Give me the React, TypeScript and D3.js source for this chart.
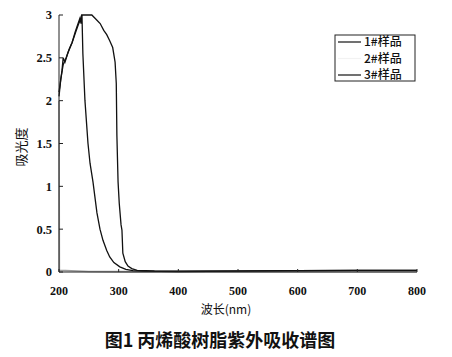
import React from "react";
import * as d3 from "d3";

const xTicks = [200, 300, 400, 500, 600, 700, 800];
const yTicks = [0, 0.5, 1, 1.5, 2, 2.5, 3];
const yTickLabels = ["0", "0.5", "1", "1.5", "2", "2.5", "3"];

const seriesNames = ["1#样品", "2#样品", "3#样品"];

// sample 1# (narrow band)
const s1Wave = [200, 203, 207, 212, 217, 222, 227, 232, 235, 237, 238.5, 240, 243.5, 248.6, 252, 257, 263.6, 268.7, 273.7, 280, 285, 292, 302, 312, 324, 340, 400, 500, 600, 700, 800];
const s1Abs = [2.05, 2.25, 2.42, 2.5, 2.6, 2.68, 2.8, 2.9, 2.96, 2.9, 3.0, 2.55, 2.0, 1.5, 1.27, 1.05, 0.69, 0.5, 0.37, 0.25, 0.175, 0.11, 0.06, 0.03, 0.015, 0.01, 0.006, 0.01, 0.015, 0.02, 0.02];

// sample 2# (faint)
const s2Wave = [200, 200.6, 250, 300, 400, 500, 600, 700, 800];
const s2Abs = [2.0, 0.02, 0.005, 0.004, 0.003, 0.004, 0.004, 0.004, 0.004];

// sample 3# (broad band)
const s3Wave = [200, 203, 205, 207, 210, 215, 222, 228, 232, 236, 238, 245, 255, 262, 269, 275, 280, 285, 290, 294, 296, 297, 299, 301, 304, 305.5, 307, 311, 315.6, 322, 331, 360, 400, 500, 600, 700, 800];
const s3Abs = [2.1, 2.25, 2.35, 2.5, 2.45, 2.56, 2.68, 2.8, 2.88, 2.95, 3.0, 3.0, 3.0, 2.95, 2.9, 2.82, 2.77, 2.7, 2.62, 2.45, 2.2, 1.6, 1.05, 0.8, 0.55, 0.49, 0.22, 0.12, 0.07, 0.04, 0.02, 0.012, 0.01, 0.012, 0.016, 0.02, 0.02];

const W = 452;
const H = 357;
const left = 59;
const right = 417;
const top = 15;
const bottom = 272;

export default function App() {
  const x = d3.scaleLinear().domain([200, 800]).range([left, right]);
  const y = d3.scaleLinear().domain([0, 3]).range([bottom, top]);
  const line = d3
    .line<[number, number]>()
    .x((d) => x(d[0]))
    .y((d) => y(d[1]));
  const s1 = s1Wave.map((w, i) => [w, s1Abs[i]] as [number, number]);
  const s2 = s2Wave.map((w, i) => [w, s2Abs[i]] as [number, number]);
  const s3 = s3Wave.map((w, i) => [w, s3Abs[i]] as [number, number]);
  const serif = "'Liberation Serif', 'DejaVu Serif', serif";
  const cjk = "'Noto Sans CJK SC', sans-serif";
  return (
    <svg
      width={W}
      height={H}
      style={{ position: "absolute", left: 0, top: 0, background: "#fff" }}
    >
      <rect x={0} y={0} width={W} height={H} fill="#fff" />
      <path d={line(s2) || ""} fill="none" stroke="#9a9a9a" strokeWidth={1.6} />
      <path d={line(s1) || ""} fill="none" stroke="#111" strokeWidth={1.3} />
      <path d={line(s3) || ""} fill="none" stroke="#111" strokeWidth={1.3} />
      <line x1={left} y1={top} x2={left} y2={bottom} stroke="#222" strokeWidth={1} />
      <line x1={left} y1={bottom} x2={right} y2={bottom} stroke="#222" strokeWidth={1} />
      {yTicks.map((t, i) => (
        <g key={"y" + t}>
          <line x1={left} x2={left + 4} y1={y(t)} y2={y(t)} stroke="#222" />
          <text
            x={left - 7}
            y={y(t)}
            dy="0.35em"
            textAnchor="end"
            fontFamily={serif}
            fontWeight="bold"
            fontSize={12.5}
            fill="#111"
          >
            {yTickLabels[i]}
          </text>
        </g>
      ))}
      {xTicks.map((t) => (
        <g key={"x" + t}>
          <line x1={x(t)} x2={x(t)} y1={bottom} y2={bottom - 3} stroke="#222" />
          <text
            x={x(t)}
            y={291}
            dy="0.35em"
            textAnchor="middle"
            fontFamily={serif}
            fontWeight="bold"
            fontSize={12}
            fill="#111"
          >
            {t}
          </text>
        </g>
      ))}
      <text
        x={226}
        y={310}
        dy="0.35em"
        textAnchor="middle"
        fontFamily={cjk}
        fontSize={12}
        fill="#111"
      >
        波长(nm)
      </text>
      <text
        transform="translate(21,147) rotate(-90)"
        textAnchor="middle"
        dy="0.35em"
        fontFamily={cjk}
        fontSize={13}
        fill="#111"
      >
        吸光度
      </text>
      <rect x={335} y={35} width={80} height={46} fill="#fff" stroke="#222" strokeWidth={1} />
      {seriesNames.map((n, i) => (
        <g key={n}>
          <line
            x1={338}
            x2={361}
            y1={42 + i * 16.5}
            y2={42 + i * 16.5}
            stroke={i === 1 ? "#f2f2f2" : "#111"}
            strokeWidth={1.2}
          />
          <text
            x={364}
            y={42 + i * 16.5}
            dy="0.35em"
            fontFamily={cjk}
            fontWeight={500}
            fontSize={12}
            fill="#111"
          >
            {n}
          </text>
        </g>
      ))}
      <text
        x={220}
        y={341}
        dy="0.35em"
        textAnchor="middle"
        fontFamily={cjk}
        fontWeight={600}
        fontSize={18}
        fill="#111"
      >
        图1 丙烯酸树脂紫外吸收谱图
      </text>
    </svg>
  );
}
